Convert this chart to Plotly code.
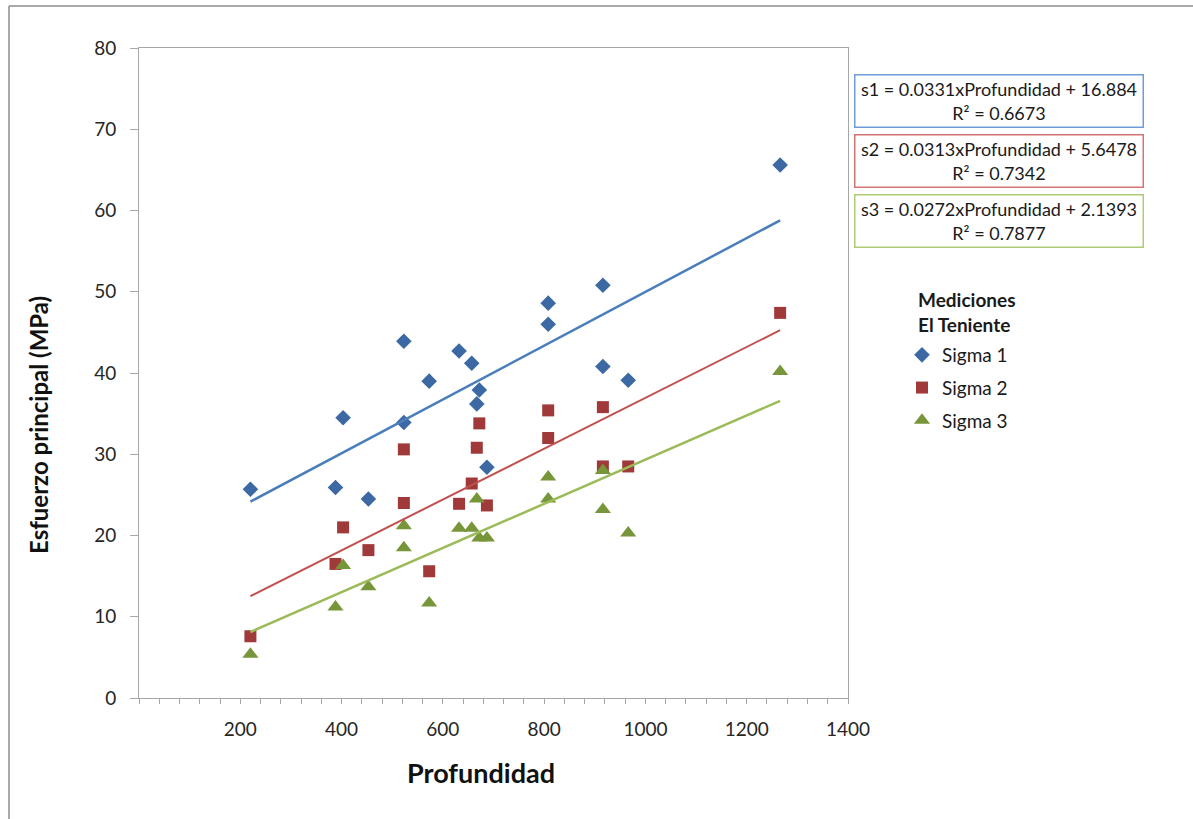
import plotly.graph_objects as go

# ---- data ----
profundidad = [220, 388, 403, 453, 523, 523, 573, 632, 657, 667, 672, 687, 808, 808, 916, 916, 966, 1266]
sigma1 = [25.7, 25.9, 34.5, 24.5, 43.9, 33.9, 39.0, 42.7, 41.2, 36.2, 37.9, 28.4, 48.6, 46.0, 50.8, 40.8, 39.1, 65.6]
sigma2 = [7.6, 16.5, 21.0, 18.2, 30.6, 24.0, 15.6, 23.9, 26.4, 30.8, 33.8, 23.7, 35.4, 32.0, 35.8, 28.5, 28.5, 47.4]
sigma3 = [5.4, 11.2, 16.3, 13.7, 21.2, 18.5, 11.7, 20.9, 20.9, 24.5, 19.7, 19.7, 27.2, 24.5, 28.0, 23.2, 20.3, 40.2]

series_names = ["Sigma 1", "Sigma 2", "Sigma 3"]
eq_names = ["s1", "s2", "s3"]
pendientes = [0.0331, 0.0313, 0.0272]
interceptos = [16.884, 5.6478, 2.1393]
r2 = [0.6673, 0.7342, 0.7877]
x_ticks = [200, 400, 600, 800, 1000, 1200, 1400]

# ---- styles ----
FONT = "Lato"
marker_colors = ["#3C69A3", "#A03A3A", "#779639"]
line_colors = ["#4A7EBB", "#C0504D", "#9BBB59"]
line_widths = [2.5, 2, 2.5]
symbols = ["diamond", "square", "triangle-up"]
sizes = [12, 12, 14]
box_colors = ["#6F9BD8", "#D47373", "#AFCB76"]

fig = go.Figure()
all_series = [sigma1, sigma2, sigma3]
for i, ys in enumerate(all_series):
    fig.add_trace(go.Scatter(
        x=profundidad, y=ys, mode="markers", name=series_names[i],
        legendgroup=series_names[i],
        marker=dict(symbol=symbols[i], size=sizes[i], color=marker_colors[i],
                    line=dict(width=0)),
    ))

xmin, xmax = min(profundidad), max(profundidad)
for i in range(3):
    xs = [xmin, xmax]
    fig.add_trace(go.Scatter(
        x=xs, y=[pendientes[i] * v + interceptos[i] for v in xs],
        mode="lines", showlegend=False, hoverinfo="skip",
        line=dict(color=line_colors[i], width=line_widths[i]),
    ))

axis_col = "#A6A6A6"
fig.update_layout(
    width=1193, height=819,
    margin=dict(l=139, r=345, t=48, b=121),
    paper_bgcolor="white", plot_bgcolor="white",
    font=dict(family=FONT, color="#262626"),
    showlegend=True,
    legend=dict(
        x=(902 - 139) / 709, xanchor="left", y=(698 - 336) / 650, yanchor="top",
        font=dict(family=FONT, size=19, color="#1a1a1a"),
        tracegroupgap=5, bgcolor="rgba(0,0,0,0)",
    ),
    xaxis=dict(
        range=[0, 1400], tickmode="array", tickvals=x_ticks,
        ticks="outside", ticklen=5, tickcolor=axis_col, tickwidth=1,
        showline=True, linecolor=axis_col, linewidth=1, mirror=True,
        showgrid=False, zeroline=False,
        tickfont=dict(family=FONT, size=19, color="#262626"),
        ticklabelstandoff=9,
        minor=dict(tickmode="linear", tick0=0, dtick=40, ticks="outside",
                   ticklen=5, tickcolor=axis_col, showgrid=False),
    ),
    yaxis=dict(
        range=[0, 80], dtick=10, tick0=0,
        ticks="outside", ticklen=8, tickcolor=axis_col, tickwidth=1,
        showline=True, linecolor=axis_col, linewidth=1, mirror=True,
        showgrid=False, zeroline=False,
        tickfont=dict(family=FONT, size=19, color="#262626"),
        ticklabelstandoff=10,
    ),
)

# legend title
fig.add_annotation(text="<b>Mediciones<br>El Teniente</b>", xref="paper", yref="paper",
                   x=(916 - 139) / 709, y=(698 - 312) / 650, xanchor="left", yanchor="middle",
                   align="left", showarrow=False,
                   font=dict(family=FONT, size=19, color="#1a1a1a"))

# axis titles
fig.add_annotation(text="<b>Profundidad</b>", xref="paper", yref="paper",
                   x=0.482, y=-0.114, xanchor="center", yanchor="middle",
                   showarrow=False, font=dict(family=FONT, size=27, color="#111"))
fig.add_annotation(text="<b>Esfuerzo principal (MPa)</b>", xref="paper", yref="paper",
                   x=-0.1425, y=0.42, xanchor="center", yanchor="middle", textangle=-90,
                   showarrow=False, font=dict(family=FONT, size=24, color="#111"))

# equation boxes
box_y_px = [101, 161, 221]
for i in range(3):
    txt = f"{eq_names[i]} = {pendientes[i]}xProfundidad + {interceptos[i]}<br>R² = {r2[i]}"
    fig.add_annotation(text=txt, xref="paper", yref="paper",
                       x=(998.5 - 139) / 709, y=(698 - box_y_px[i]) / 650,
                       xanchor="center", yanchor="middle", showarrow=False,
                       width=283, height=47, borderpad=2, align="center",
                       bordercolor=box_colors[i], borderwidth=1.5, bgcolor="white",
                       font=dict(family=FONT, size=18, color="#1a1a1a"))

# outer chart frame (top and left edges visible)
fx0 = (9 - 139) / 709
fy1 = (698 - 6) / 650
fig.add_shape(type="line", xref="paper", yref="paper", x0=fx0, x1=fx0,
              y0=(698 - 830) / 650, y1=fy1, line=dict(color="#8C8C8C", width=1.5))
fig.add_shape(type="line", xref="paper", yref="paper", x0=fx0, x1=(1200 - 139) / 709,
              y0=fy1, y1=fy1, line=dict(color="#8C8C8C", width=1.5))

fig.write_html("out.html", config={"displayModeBar": False},
               post_script="document.body.style.margin='0';")
